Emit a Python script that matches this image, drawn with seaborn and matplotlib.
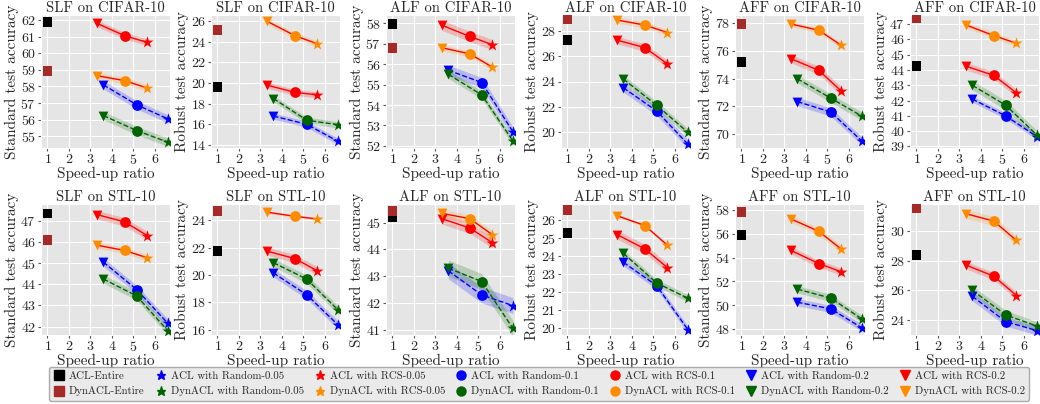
import matplotlib
matplotlib.use("Agg")
import matplotlib.pyplot as plt
from matplotlib.lines import Line2D
from matplotlib.ticker import MultipleLocator
import seaborn as sns

# speed-up ratios (x positions) of each subset fraction
rand_speed = [3.6, 5.15, 6.6]   # Random-0.2, 0.1, 0.05
rcs_speed = [3.3, 4.6, 5.65]    # RCS-0.2, 0.1, 0.05
fractions = ["0.2", "0.1", "0.05"]

titles = ["SLF on CIFAR-10", "SLF on CIFAR-10", "ALF on CIFAR-10", "ALF on CIFAR-10",
          "AFF on CIFAR-10", "AFF on CIFAR-10",
          "SLF on STL-10", "SLF on STL-10", "ALF on STL-10", "ALF on STL-10",
          "AFF on STL-10", "AFF on STL-10"]
ylabels = ["Standard test accuracy", "Robust test accuracy"] * 6

acl_entire = [61.9, 19.65, 57.95, 27.3, 75.2, 44.25, 47.35, 21.75, 45.2, 25.3, 55.9, 28.4]
dyn_entire = [58.95, 25.15, 56.8, 28.95, 77.95, 47.4, 46.1, 24.7, 45.45, 26.55, 57.8, 31.5]

acl_rcs = [[61.8, 61.05, 60.65], [19.8, 19.1, 18.85], [57.9, 57.35, 56.95], [27.3, 26.7, 25.4],
           [75.45, 74.6, 73.1], [44.25, 43.65, 42.5], [47.3, 46.95, 46.3], [21.75, 21.2, 20.3],
           [45.15, 44.8, 44.25], [25.2, 24.4, 23.35], [54.6, 53.5, 52.8], [27.7, 26.95, 25.65]]
dyn_rcs = [[58.65, 58.35, 57.9], [26.0, 24.6, 23.8], [56.8, 56.5, 55.85], [28.9, 28.5, 27.9],
           [77.95, 77.5, 76.4], [46.95, 46.25, 45.75], [45.85, 45.6, 45.25], [24.6, 24.3, 24.1],
           [45.35, 45.15, 44.55], [26.25, 25.7, 24.6], [57.25, 56.2, 54.7], [31.15, 30.65, 29.35]]
acl_rand = [[58.1, 56.9, 56.05], [16.8, 16.0, 14.35], [55.7, 55.1, 52.7], [23.5, 21.65, 19.0],
            [72.35, 71.6, 69.5], [42.1, 41.0, 39.65], [45.05, 43.75, 42.15], [20.15, 18.55, 16.35],
            [43.2, 42.3, 41.9], [23.65, 22.35, 19.9], [50.25, 49.7, 48.1], [25.6, 23.9, 23.3]]
dyn_rand = [[56.25, 55.35, 54.65], [18.5, 16.4, 15.95], [55.5, 54.5, 52.25], [24.2, 22.1, 19.95],
            [74.0, 72.6, 71.3], [43.0, 41.7, 39.75], [44.25, 43.45, 41.8], [20.9, 19.7, 17.45],
            [43.3, 42.8, 41.05], [24.15, 22.5, 21.65], [51.35, 50.6, 48.85], [26.0, 24.35, 23.6]]

# std of each series (acl rcs, dyn rcs, acl random, dyn random)
stds = [[0.2, 0.2, 0.25, 0.25], [0.3, 0.3, 0.3, 0.3], [0.25, 0.15, 0.25, 0.2], [0.3, 0.25, 0.35, 0.3],
        [0.3, 0.2, 0.3, 0.3], [0.25, 0.2, 0.2, 0.3], [0.2, 0.15, 0.2, 0.2], [0.3, 0.1, 0.3, 0.3],
        [0.2, 0.15, 0.3, 0.3], [0.25, 0.1, 0.2, 0.2], [0.3, 0.3, 0.3, 0.3], [0.25, 0.3, 0.3, 0.3]]

ylims = [(54.3, 62.3), (13.7, 26.6), (51.9, 58.4), (18.7, 29.3), (69.0, 78.6), (38.9, 47.6),
         (41.6, 47.8), (15.6, 25.2), (40.8, 45.7), (19.6, 26.9), (47.5, 58.5), (23.0, 31.8)]
ysteps = [1, 2, 1, 2, 2, 1, 1, 2, 1, 1, 2, 2]

sns.set_style("darkgrid", {"axes.facecolor": "#e5e5e5", "grid.color": "white"})
plt.rcParams["font.family"] = ["cmr10", "DejaVu Serif"]
plt.rcParams["axes.formatter.use_mathtext"] = True

markers = {"0.2": "v", "0.1": "o", "0.05": "*"}
sizes = {"0.2": 50, "0.1": 60, "0.05": 80}

fig = plt.figure(figsize=(10.4, 4.04), dpi=100)
lefts = [41, 211, 386, 561, 735, 910]
W, H = 1040, 404

for i in range(12):
    r, c = divmod(i, 6)
    if r == 0:
        ax = fig.add_axes([lefts[c] / W, 256 / H, 129 / W, 133 / H])
    else:
        ax = fig.add_axes([lefts[c] / W, 69 / H, 129 / W, 131 / H])

    series = [
        (rcs_speed, acl_rcs[i], "red", "red", "-", stds[i][0]),
        (rcs_speed, dyn_rcs[i], "darkorange", "red", "-", stds[i][1]),
        (rand_speed, acl_rand[i], "blue", "blue", "--", stds[i][2]),
        (rand_speed, dyn_rand[i], "darkgreen", "darkgreen", "--", stds[i][3]),
    ]
    for xs, ys, mc, lc, ls, sd in series:
        ax.fill_between(xs, [y - sd for y in ys], [y + sd for y in ys], color=mc, alpha=0.2, lw=0)
        sns.lineplot(x=xs, y=ys, ax=ax, color=lc, linestyle=ls, lw=1.0, zorder=3)
        for x, y, f in zip(xs, ys, fractions):
            ax.scatter([x], [y], marker=markers[f], s=sizes[f], color=mc, zorder=4, lw=0)

    sns.scatterplot(x=[1, 1], y=[acl_entire[i], dyn_entire[i]], hue=["a", "d"],
                    palette={"a": "black", "d": "#a52a2a"}, marker="s", s=50,
                    ax=ax, legend=False, zorder=4, linewidth=0)

    ax.set_xlim(0.7, 6.7)
    ax.set_ylim(*ylims[i])
    ax.set_xticks([1, 2, 3, 4, 5, 6])
    ax.yaxis.set_major_locator(MultipleLocator(ysteps[i]))
    ax.tick_params(labelsize=10, length=2.5, color="#555555", pad=1, left=True, bottom=True)
    ax.set_title(titles[i], fontsize=10.5, pad=2)
    ax.set_xlabel("Speed-up ratio", fontsize=11, labelpad=0)
    ax.set_ylabel(ylabels[i], fontsize=11, labelpad=1)

labels = ["ACL-Entire", "DynACL-Entire",
          "ACL with Random-0.05", "DynACL with Random-0.05",
          "ACL with RCS-0.05", "DynACL with RCS-0.05",
          "ACL with Random-0.1", "DynACL with Random-0.1",
          "ACL with RCS-0.1", "DynACL with RCS-0.1",
          "ACL with Random-0.2", "DynACL with Random-0.2",
          "ACL with RCS-0.2", "DynACL with RCS-0.2"]
hmark = ["s", "s", "*", "*", "*", "*", "o", "o", "o", "o", "v", "v", "v", "v"]
hcol = ["black", "#a52a2a", "blue", "darkgreen", "red", "darkorange",
        "blue", "darkgreen", "red", "darkorange", "blue", "darkgreen", "red", "darkorange"]
handles = [Line2D([], [], marker=m, color=col, linestyle="none", markersize=6.5)
           for m, col in zip(hmark, hcol)]
leg = fig.legend(handles, labels, loc="center", bbox_to_anchor=(0.518, 0.05), ncol=7,
                 fontsize=7.8, frameon=True, columnspacing=0.9, handletextpad=0.3,
                 handlelength=1.2, borderpad=0.4, labelspacing=0.5)
leg.get_frame().set_facecolor("#e5e5e5")
leg.get_frame().set_edgecolor("#999999")

fig.savefig("out.png", dpi=100)
